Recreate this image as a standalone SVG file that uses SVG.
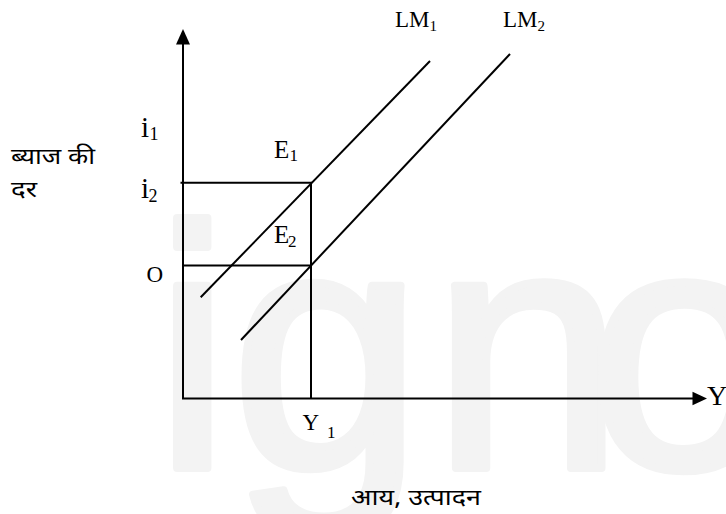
<svg xmlns="http://www.w3.org/2000/svg" width="726" height="514" viewBox="0 0 726 514">
<style>
.ln{stroke:#000;stroke-width:2;fill:none;stroke-linecap:butt}
.hd{fill:#000}
.t{font-family:"Liberation Serif","Times New Roman",serif;fill:#000}
.hi{font-family:"Noto Sans Devanagari","Lohit Devanagari","Mangal","Noto Sans",sans-serif;fill:#000;font-size:23px}
.wm{font-family:"Liberation Sans",Arial,sans-serif;fill:#f3f3f3;stroke:#f3f3f3;stroke-width:8;stroke-linejoin:round;font-size:345px}
</style>
<rect width="726" height="514" fill="#fff"/>
<g id="watermark"><text class="wm" x="154 231 432 588 778" y="468">ignou</text></g>
<g id="connectors">
<line class="ln" x1="183" y1="42" x2="183" y2="399"/>
<line class="ln" x1="182" y1="398.5" x2="695" y2="398.5"/>
<polygon class="hd" points="183,29 176,44.5 190,44.5"/>
<polygon class="hd" points="707,398.5 692.5,391.8 692.5,405.2"/>
<line class="ln" x1="180.5" y1="182.7" x2="312" y2="182.7"/>
<line class="ln" x1="183" y1="265.5" x2="312" y2="265.5"/>
<line class="ln" x1="311" y1="182.7" x2="311" y2="398.5"/>
<line class="ln" x1="200.7" y1="297.3" x2="430" y2="61"/>
<line class="ln" x1="241" y1="340" x2="510" y2="54"/>
</g>
<g id="label-LM1"><text class="t" x="395" y="27" font-size="23">LM</text><text class="t" x="429.5" y="31" font-size="15">1</text></g>
<g id="label-LM2"><text class="t" x="503" y="27" font-size="23">LM</text><text class="t" x="537.5" y="31" font-size="15">2</text></g>
<g id="label-i1"><text class="t" x="141" y="137" font-size="29">i</text><text class="t" x="149.5" y="140" font-size="18">1</text></g>
<g id="label-i2"><text class="t" x="141" y="198" font-size="29">i</text><text class="t" x="148.5" y="201.7" font-size="18">2</text></g>
<g id="label-E1"><text class="t" x="274" y="158.3" font-size="25">E</text><text class="t" x="289.5" y="161" font-size="17">1</text></g>
<g id="label-E2"><text class="t" x="274" y="243.3" font-size="25">E</text><text class="t" x="288" y="246.5" font-size="17">2</text></g>
<g id="label-O"><text class="t" x="146.5" y="281.7" font-size="23">O</text></g>
<g id="label-Y1"><text class="t" x="302.5" y="430" font-size="23">Y</text><text class="t" x="327" y="438" font-size="17">1</text></g>
<g id="label-Y"><text class="t" x="707" y="405" font-size="28">Y</text></g>
<g id="label-rate"><text class="hi" x="11" y="164" textLength="84" lengthAdjust="spacingAndGlyphs">ब्याज की</text><text class="hi" x="11" y="197" textLength="26" lengthAdjust="spacingAndGlyphs">दर</text></g>
<g id="label-income"><text class="hi" x="351" y="505" textLength="130" lengthAdjust="spacingAndGlyphs">आय, उत्पादन</text></g>
</svg>
